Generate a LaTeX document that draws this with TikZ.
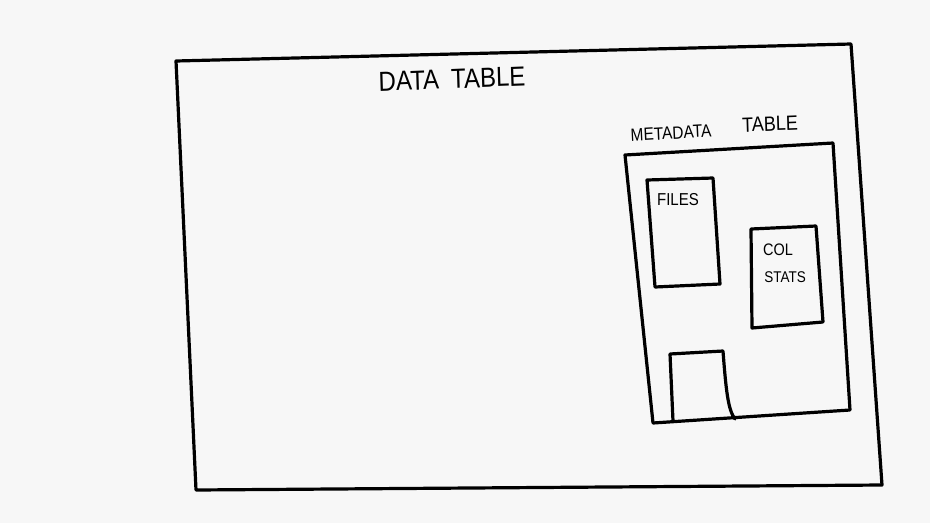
\documentclass[tikz,border=0pt]{standalone}
\usepackage{fontspec}
\setmainfont{Liberation Sans}
\begin{document}
\begin{tikzpicture}[x=1pt,y=-1pt,
  sketch/.style={draw=black, line width=3.2pt, line join=round, line cap=round},
  hand/.style={inner sep=0pt, text=black, yscale=1.15}]
\useasboundingbox[fill=black!3] (0,0) rectangle (930,523);
% outer data table
\coordinate (d1) at (176,61);
\coordinate (d2) at (851,44);
\coordinate (d3) at (882,485);
\coordinate (d4) at (196,490);
\draw[sketch] (d1) -- (d2) -- (d3) -- (d4) -- cycle;
\node[hand, font=\fontsize{24}{24}\selectfont, rotate=2] (dt) at (452,79) {DATA\hspace{0.5em}TABLE};
% metadata table
\coordinate (m1) at (625,155);
\coordinate (m2) at (833,143);
\coordinate (m3) at (850,410);
\coordinate (m4) at (653,423);
\draw[sketch] (m1) -- (m2) -- (m3) -- (m4) -- cycle;
\node[hand, font=\fontsize{15.5}{16}\selectfont, rotate=3] (mt1) at (671,133) {METADATA};
\node[hand, font=\fontsize{18}{18}\selectfont, rotate=2] (mt2) at (770,124) {TABLE};
% files
\coordinate (f1) at (647,180);
\coordinate (f2) at (713,178);
\coordinate (f3) at (720,284);
\coordinate (f4) at (655,287);
\draw[sketch] (f1) -- (f2) -- (f3) -- (f4) -- cycle;
\node[hand, font=\fontsize{15}{15}\selectfont] (fl) at (678,200) {FILES};
% col stats
\coordinate (c1) at (751,229);
\coordinate (c2) at (816,226);
\coordinate (c3) at (823,322);
\coordinate (c4) at (752,328);
\draw[sketch] (c1) -- (c2) -- (c3) -- (c4) -- cycle;
\node[hand, font=\fontsize{14.5}{14.5}\selectfont] (cs1) at (778,250) {COL};
\node[hand, font=\fontsize{13.5}{14}\selectfont] (cs2) at (785,277) {STATS};
% bottom small box (open at the bottom)
\coordinate (b1) at (673,421);
\coordinate (b2) at (670,354);
\coordinate (b3) at (723,351);
\coordinate (b4) at (735,419);
\draw[sketch] (b1) -- (b2) -- (b3) .. controls (726,390) and (728,410) .. (b4);
\end{tikzpicture}
\end{document}
